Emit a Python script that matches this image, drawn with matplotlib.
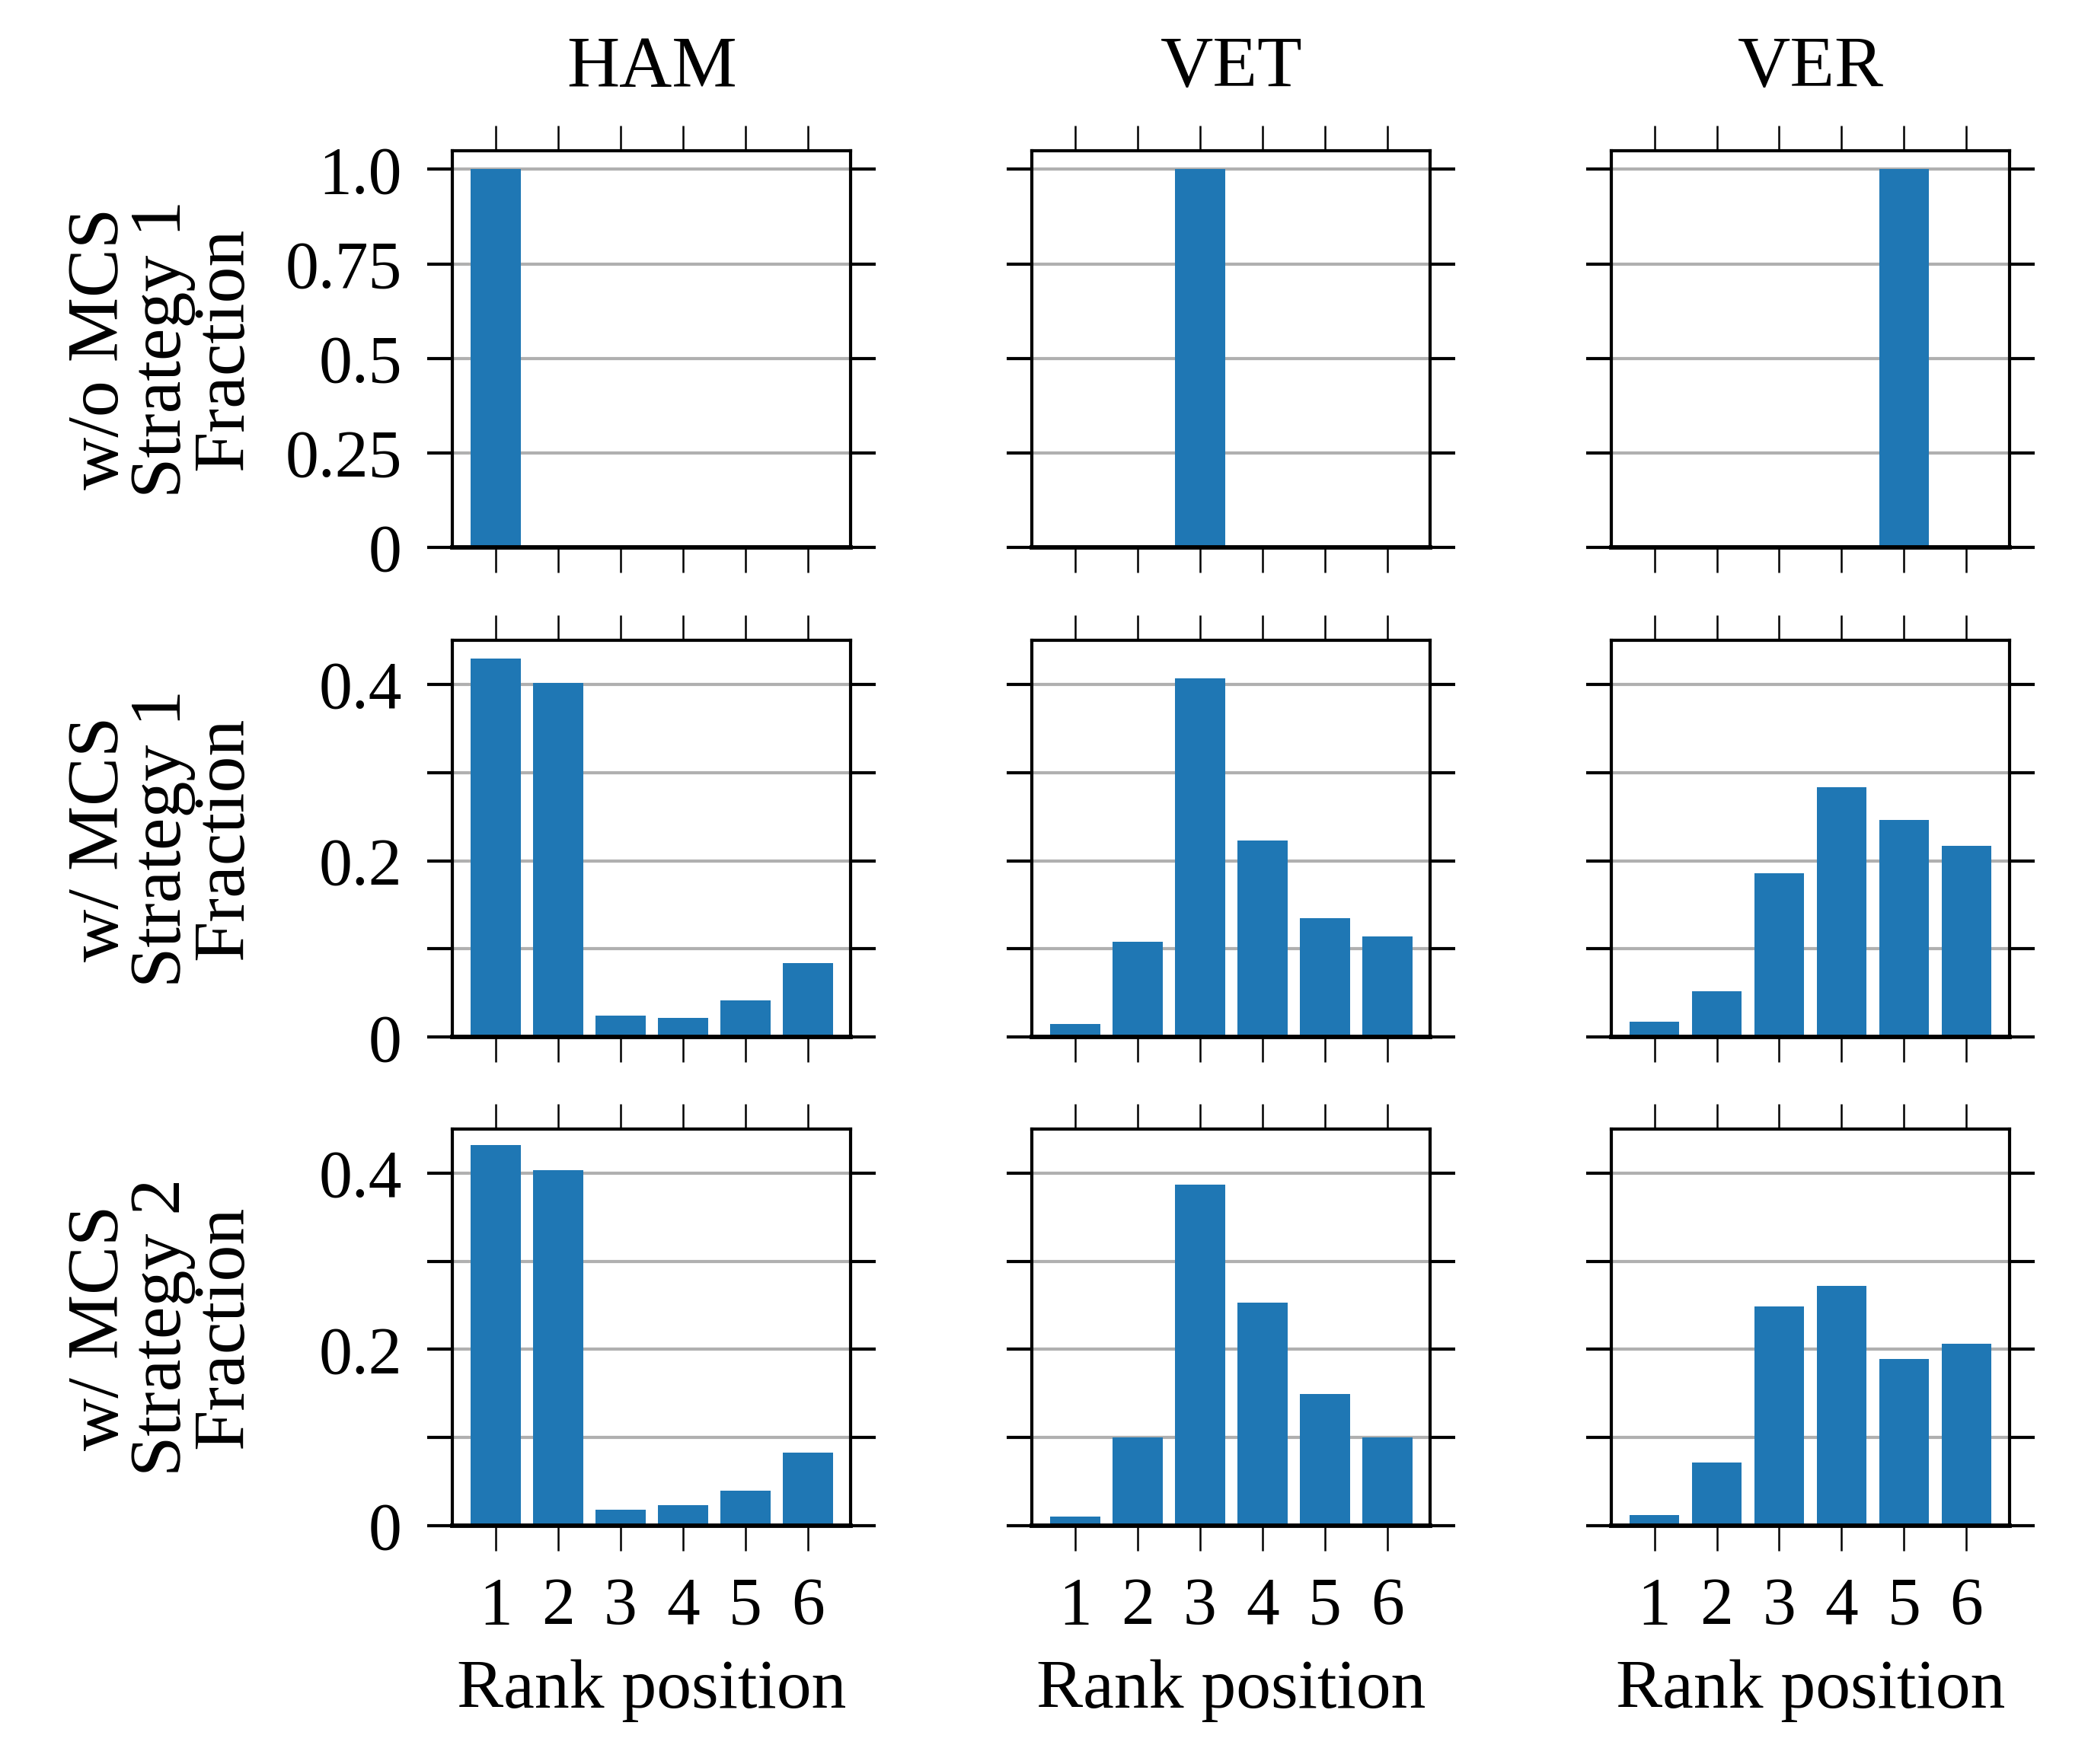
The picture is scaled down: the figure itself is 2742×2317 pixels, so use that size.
import matplotlib
matplotlib.use("Agg")
import matplotlib.pyplot as plt
import numpy as np

drivers = ["HAM", "VET", "VER"]
rows = ["w/o MCS\nStrategy 1\nFraction", "w/ MCS\nStrategy 1\nFraction", "w/ MCS\nStrategy 2\nFraction"]
ranks = [1, 2, 3, 4, 5, 6]

# row 0: w/o MCS, Strategy 1
ham_r0 = [1.0, 0, 0, 0, 0, 0]
vet_r0 = [0, 0, 1.0, 0, 0, 0]
ver_r0 = [0, 0, 0, 0, 1.0, 0]
# row 1: w/ MCS, Strategy 1
ham_r1 = [0.429, 0.402, 0.024, 0.022, 0.042, 0.084]
vet_r1 = [0.015, 0.108, 0.407, 0.223, 0.135, 0.114]
ver_r1 = [0.017, 0.052, 0.186, 0.283, 0.246, 0.217]
# row 2: w/ MCS, Strategy 2
ham_r2 = [0.432, 0.403, 0.018, 0.023, 0.040, 0.083]
vet_r2 = [0.010, 0.100, 0.387, 0.253, 0.149, 0.100]
ver_r2 = [0.012, 0.072, 0.249, 0.272, 0.189, 0.206]

data = [[ham_r0, vet_r0, ver_r0],
        [ham_r1, vet_r1, ver_r1],
        [ham_r2, vet_r2, ver_r2]]

yticks_top = [0, 0.25, 0.5, 0.75, 1.0]
ylabels_top = ["0", "0.25", "0.5", "0.75", "1.0"]
yticks_mid = [0, 0.1, 0.2, 0.3, 0.4]
ylabels_mid = ["0", "", "0.2", "", "0.4"]

FONT = "Liberation Serif"
FS_TICK = 21
FS_LAB = 23
FS_XLAB = 22
plt.rcParams["font.family"] = [FONT, "DejaVu Serif"]

fig = plt.figure(figsize=(2742 / 300, 2317 / 300), dpi=300)

col_x = [0.2168, 0.4943, 0.7717]
row_y = [0.6898, 0.4121, 0.1351]
w, h = 0.1907, 0.2249

for r in range(3):
    for c in range(3):
        ax = fig.add_axes([col_x[c], row_y[r], w, h])
        ax.set_axisbelow(True)
        ax.bar(ranks, data[r][c], width=0.8, color="#1f77b4", zorder=2)
        ax.set_xlim(0.31, 6.69)
        if r == 0:
            ax.set_ylim(0, 1.05)
            ax.set_yticks(yticks_top)
            ax.set_yticklabels(ylabels_top if c == 0 else [""] * 5)
        else:
            ax.set_ylim(0, 0.45)
            ax.set_yticks(yticks_mid)
            ax.set_yticklabels(ylabels_mid if c == 0 else [""] * 5)
        ax.set_xticks(ranks)
        ax.set_xticklabels([str(v) for v in ranks] if r == 2 else [""] * 6)
        ax.yaxis.grid(True, color="#b0b0b0", linewidth=1.0, zorder=0)
        ax.tick_params(axis="x", which="both", direction="out", top=True, bottom=True,
                       length=8, width=0.6, pad=8, labelsize=FS_TICK)
        ax.tick_params(axis="y", which="both", direction="out", left=True, right=True,
                       length=8, width=1.0, pad=8, labelsize=FS_TICK)
        for s in ax.spines.values():
            s.set_linewidth(1.0)
        ax.spines["bottom"].set_linewidth(1.4)
        if r == 0:
            fig.text(col_x[c] + w / 2, 0.9608, drivers[c], ha="center", va="center",
                     fontsize=FS_LAB)
        if r == 2:
            fig.text(col_x[c] + w / 2, 0.0415, "Rank position", ha="center", va="center",
                     fontsize=FS_XLAB)
    fig.text(0.0778, row_y[r] + h / 2, rows[r], rotation=90, ha="center", va="center",
             fontsize=FS_LAB, linespacing=0.93, multialignment="center")

fig.savefig("out.png", dpi=300)
